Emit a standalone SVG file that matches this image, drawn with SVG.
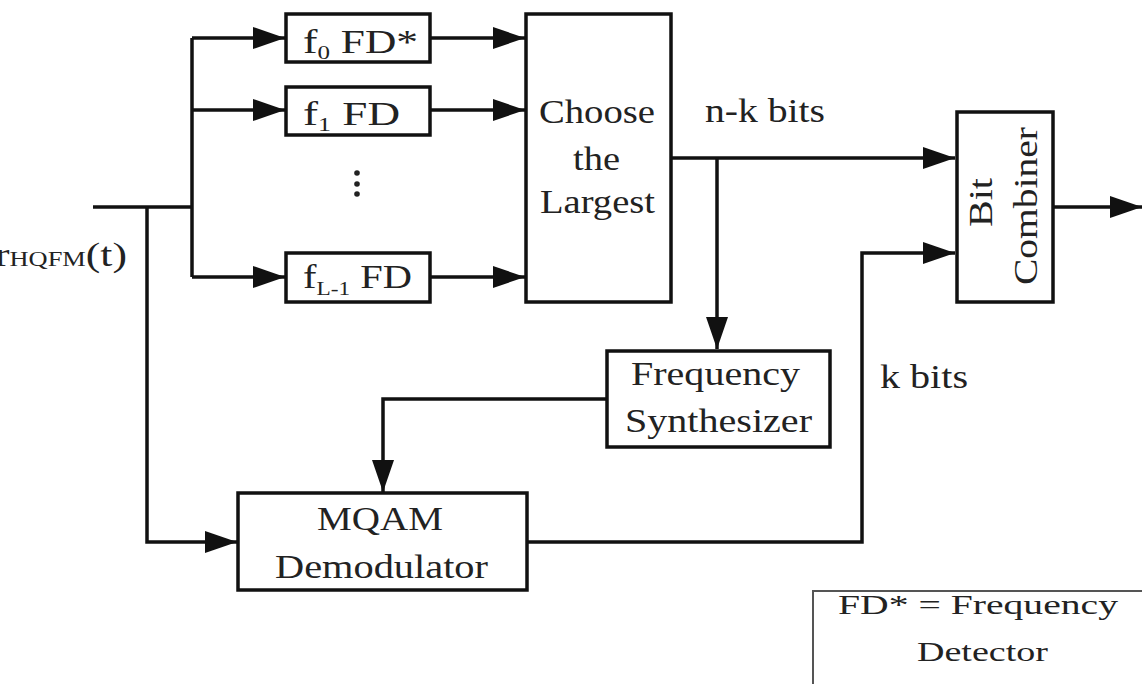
<svg xmlns="http://www.w3.org/2000/svg" width="1142" height="684" viewBox="0 0 1142 684">
<style>
.box{fill:#fff;stroke:#111;stroke-width:3.5}
.ln{fill:none;stroke:#111;stroke-width:3.5}
.t{font-family:"Liberation Serif","Times New Roman",serif;font-size:33px;fill:#222}
.s{font-size:19px}
.lg{font-size:27px}
</style>
<defs>
<marker id="ah" markerUnits="userSpaceOnUse" viewBox="0 0 32 22" markerWidth="32" markerHeight="22" refX="32" refY="11" orient="auto">
<path d="M0,0 L32,11 L0,22 Z" fill="#111"/>
</marker>
</defs>
<rect width="1142" height="684" fill="#fff"/>
<g id="connectors">
<path class="ln" d="M93,207 H192"/>
<path class="ln" d="M147,207 V542 H237" marker-end="url(#ah)"/>
<path class="ln" d="M192,38 V277"/>
<path class="ln" d="M192,38 H285" marker-end="url(#ah)"/>
<path class="ln" d="M192,110 H285" marker-end="url(#ah)"/>
<path class="ln" d="M192,277 H285" marker-end="url(#ah)"/>
<path class="ln" d="M430,38 H525" marker-end="url(#ah)"/>
<path class="ln" d="M430,110 H525" marker-end="url(#ah)"/>
<path class="ln" d="M430,277 H525" marker-end="url(#ah)"/>
<path class="ln" d="M671,158 H955" marker-end="url(#ah)"/>
<path class="ln" d="M717,158 V349" marker-end="url(#ah)"/>
<path class="ln" d="M607,399 H383 V492" marker-end="url(#ah)"/>
<path class="ln" d="M527,542 H862 V253 H955" marker-end="url(#ah)"/>
<path class="ln" d="M1053,207 H1142" marker-end="url(#ah)"/>
</g>
<g id="input-label">
<text class="t" x="-5" y="266" textLength="132" lengthAdjust="spacingAndGlyphs">r<tspan font-size="20px" dy="0">HQFM</tspan><tspan dy="0">(t)</tspan></text>
</g>
<g id="fd0">
<rect class="box" x="286" y="14" width="144" height="48"/>
<text class="t" x="303" y="53" textLength="115" lengthAdjust="spacingAndGlyphs">f<tspan class="s" dy="6">0</tspan><tspan dy="-6"> FD*</tspan></text>
</g>
<g id="fd1">
<rect class="box" x="286" y="87" width="144" height="48"/>
<text class="t" x="303" y="125" textLength="97" lengthAdjust="spacingAndGlyphs">f<tspan class="s" dy="6">1</tspan><tspan dy="-6"> FD</tspan></text>
</g>
<g id="dots">
<circle cx="357" cy="173" r="2.8" fill="#222"/>
<circle cx="357" cy="184" r="2.8" fill="#222"/>
<circle cx="357" cy="194" r="2.8" fill="#222"/>
</g>
<g id="fdL">
<rect class="box" x="286" y="253" width="144" height="49"/>
<text class="t" x="303" y="288" textLength="109" lengthAdjust="spacingAndGlyphs">f<tspan class="s" dy="7">L-1</tspan><tspan dy="-7"> FD</tspan></text>
</g>
<g id="choose">
<rect class="box" x="526" y="14" width="145" height="288"/>
<text class="t" x="539" y="123" textLength="116" lengthAdjust="spacingAndGlyphs">Choose</text>
<text class="t" x="573" y="170" textLength="47" lengthAdjust="spacingAndGlyphs">the</text>
<text class="t" x="540" y="213" textLength="115" lengthAdjust="spacingAndGlyphs">Largest</text>
</g>
<g id="nk-label">
<text class="t" x="705" y="122" textLength="120" lengthAdjust="spacingAndGlyphs">n-k bits</text>
</g>
<g id="k-label">
<text class="t" x="880" y="388" textLength="88" lengthAdjust="spacingAndGlyphs">k bits</text>
</g>
<g id="combiner">
<rect class="box" x="957" y="112" width="96" height="190"/>
<text class="t" transform="translate(992,227) rotate(-90)" x="0" y="0" textLength="49" lengthAdjust="spacingAndGlyphs">Bit</text>
<text class="t" transform="translate(1037,285) rotate(-90)" x="0" y="0" textLength="158" lengthAdjust="spacingAndGlyphs">Combiner</text>
</g>
<g id="synth">
<rect class="box" x="607" y="351" width="223" height="96"/>
<text class="t" x="631" y="385" textLength="169" lengthAdjust="spacingAndGlyphs">Frequency</text>
<text class="t" x="625" y="432" textLength="187" lengthAdjust="spacingAndGlyphs">Synthesizer</text>
</g>
<g id="mqam">
<rect class="box" x="238" y="493" width="289" height="97"/>
<text class="t" x="317" y="530" textLength="126" lengthAdjust="spacingAndGlyphs">MQAM</text>
<text class="t" x="275" y="578" textLength="213" lengthAdjust="spacingAndGlyphs">Demodulator</text>
</g>
<g id="legend">
<rect x="813" y="591" width="345" height="110" fill="#fff" stroke="#555" stroke-width="2"/>
<text class="t lg" x="838" y="614" textLength="280" lengthAdjust="spacingAndGlyphs">FD* = Frequency</text>
<text class="t lg" x="917" y="661" textLength="131" lengthAdjust="spacingAndGlyphs">Detector</text>
</g>
</svg>
